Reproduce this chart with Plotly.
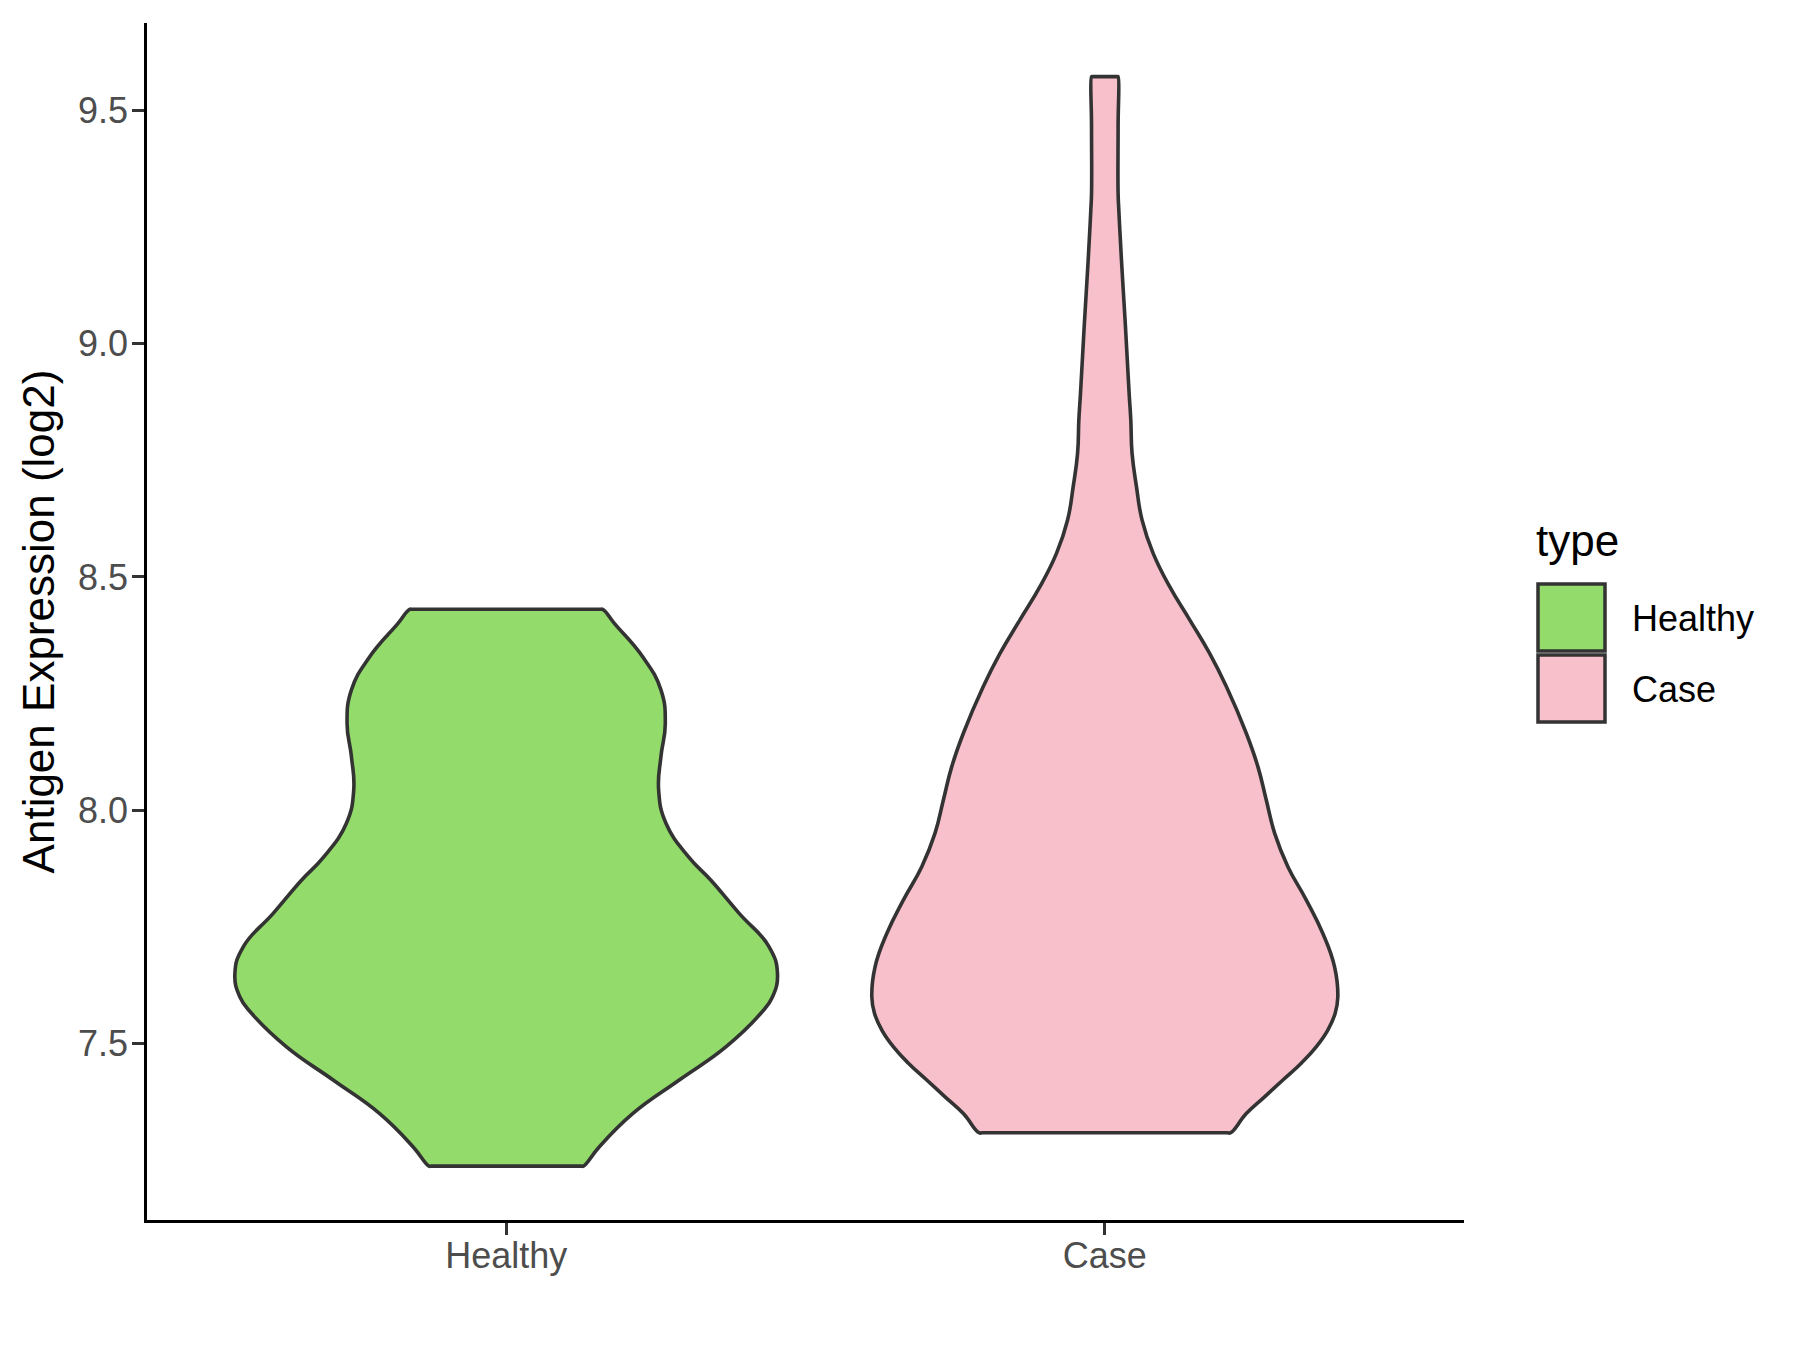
import plotly.graph_objects as go

# ---- data (violin density profiles: level, half-width) ----
categories = ["Healthy", "Case"]
positions = [1, 2]
fill_colors = ["#93DB6A", "#F8C0CB"]

healthy_levels = [7.2375, 7.279, 7.350, 7.422, 7.493, 7.565, 7.600, 7.650, 7.7075, 7.779,
                  7.850, 7.900, 7.972, 8.043, 8.115, 8.186, 8.258, 8.329, 8.4005, 8.4306]
healthy_halfwidth = [0.1290, 0.1557, 0.2113, 0.2891, 0.3670, 0.4254, 0.4448, 0.4532, 0.4392, 0.3892,
                     0.3420, 0.3047, 0.2669, 0.2547, 0.2585, 0.2658, 0.2585, 0.2280, 0.1807, 0.1613]

case_levels = [7.309, 7.350, 7.386, 7.422, 7.458, 7.493, 7.529, 7.565, 7.600, 7.665,
               7.736, 7.808, 7.879, 7.951, 8.022, 8.093, 8.165, 8.265, 8.336, 8.408,
               8.479, 8.551, 8.622, 8.693, 8.765, 8.836, 8.894, 9.036, 9.179, 9.286,
               9.322, 9.465, 9.572]
case_halfwidth = [0.2102, 0.2363, 0.2669, 0.2975, 0.3281, 0.3531, 0.3725, 0.3848, 0.3892, 0.3837,
                  0.3642, 0.3364, 0.3058, 0.2836, 0.2697, 0.2558, 0.2363, 0.2030, 0.1751, 0.1418,
                  0.1084, 0.0806, 0.0622, 0.0529, 0.0455, 0.0434, 0.0406, 0.0345, 0.0278, 0.0234,
                  0.0222, 0.0222, 0.0222]

y_tick_values = [7.5, 8.0, 8.5, 9.0, 9.5]
y_tick_labels = ["7.5", "8.0", "8.5", "9.0", "9.5"]
y_title = "Antigen Expression (log2)"
legend_title = "type"

profiles = [(healthy_levels, healthy_halfwidth), (case_levels, case_halfwidth)]


def outline(pos, levels, hw):
    """Closed violin outline: left side up, flat top, right side down, flat bottom."""
    k = 0.97
    xs = [pos - w for w in hw]
    ys = list(levels)
    xs += [pos - hw[-1] * k, pos, pos + hw[-1] * k]
    ys += [levels[-1]] * 3
    xs += [pos + w for w in reversed(hw)]
    ys += list(reversed(levels))
    xs += [pos + hw[0] * k, pos, pos - hw[0] * k, pos - hw[0]]
    ys += [levels[0]] * 4
    return xs, ys


fig = go.Figure()
for name, pos, color, (lv, hw) in zip(categories, positions, fill_colors, profiles):
    xs, ys = outline(pos, lv, hw)
    fig.add_trace(go.Scatter(
        x=xs, y=ys, mode="lines", name=name, fill="toself", fillcolor=color,
        line=dict(color="#333333", width=3.6, shape="spline", smoothing=1.3),
        showlegend=False, hoverinfo="skip"))

font_family = "Liberation Sans, Arial, sans-serif"

# page-pixel layout of the reference (the page body adds an 8 px margin)
BODY = 8
L, R, T, B = 147, 1464, 23, 1220
W, H = R - L, B - T
FIG_W, FIG_H = 1800 - 2 * BODY, 1350 - 2 * BODY


def px(xp):
    return (xp - L) / W


def py(yp):
    return (B - yp) / H


shapes = []
annotations = []
key_tops = [584, 655]
for name, color, top in zip(categories, fill_colors, key_tops):
    shapes.append(dict(type="rect", xref="paper", yref="paper",
                       x0=px(1538), x1=px(1605), y0=py(top + 67), y1=py(top),
                       fillcolor=color, line=dict(color="#333333", width=3.5)))
    annotations.append(dict(text=name, xref="paper", yref="paper",
                            x=px(1630), y=py(top + 34), xanchor="left", yanchor="middle",
                            showarrow=False, font=dict(size=36, color="black", family=font_family)))
annotations.append(dict(text=legend_title, xref="paper", yref="paper",
                        x=px(1534), y=py(540), xanchor="left", yanchor="middle",
                        showarrow=False, font=dict(size=44, color="black", family=font_family)))

fig.update_layout(
    width=FIG_W, height=FIG_H,
    margin=dict(l=L - BODY, r=FIG_W - (R - BODY), t=T - BODY, b=FIG_H - (B - BODY), pad=0),
    paper_bgcolor="white", plot_bgcolor="white",
    font=dict(family=font_family),
    shapes=shapes, annotations=annotations,
    showlegend=False,
)
fig.update_xaxes(
    range=[0.4, 2.6], tickmode="array", tickvals=positions, ticktext=categories,
    showline=True, linecolor="black", linewidth=2.5, mirror=False,
    ticks="outside", ticklen=12, tickwidth=2.5, tickcolor="#333333",
    ticklabelstandoff=-10,
    tickfont=dict(size=36, color="#4D4D4D", family=font_family),
    showgrid=False, zeroline=False,
)
fig.update_yaxes(
    range=[7.122, 9.687], tickmode="array", tickvals=y_tick_values, ticktext=y_tick_labels,
    showline=True, linecolor="black", linewidth=2.5, mirror=False,
    ticks="outside", ticklen=12, tickwidth=2.5, tickcolor="#333333",
    ticklabelstandoff=-3,
    tickfont=dict(size=36, color="#4D4D4D", family=font_family),
    showgrid=False, zeroline=False,
    title=dict(text=y_title, font=dict(size=44, color="black", family=font_family), standoff=10),
)

fig.write_html("out.html")
